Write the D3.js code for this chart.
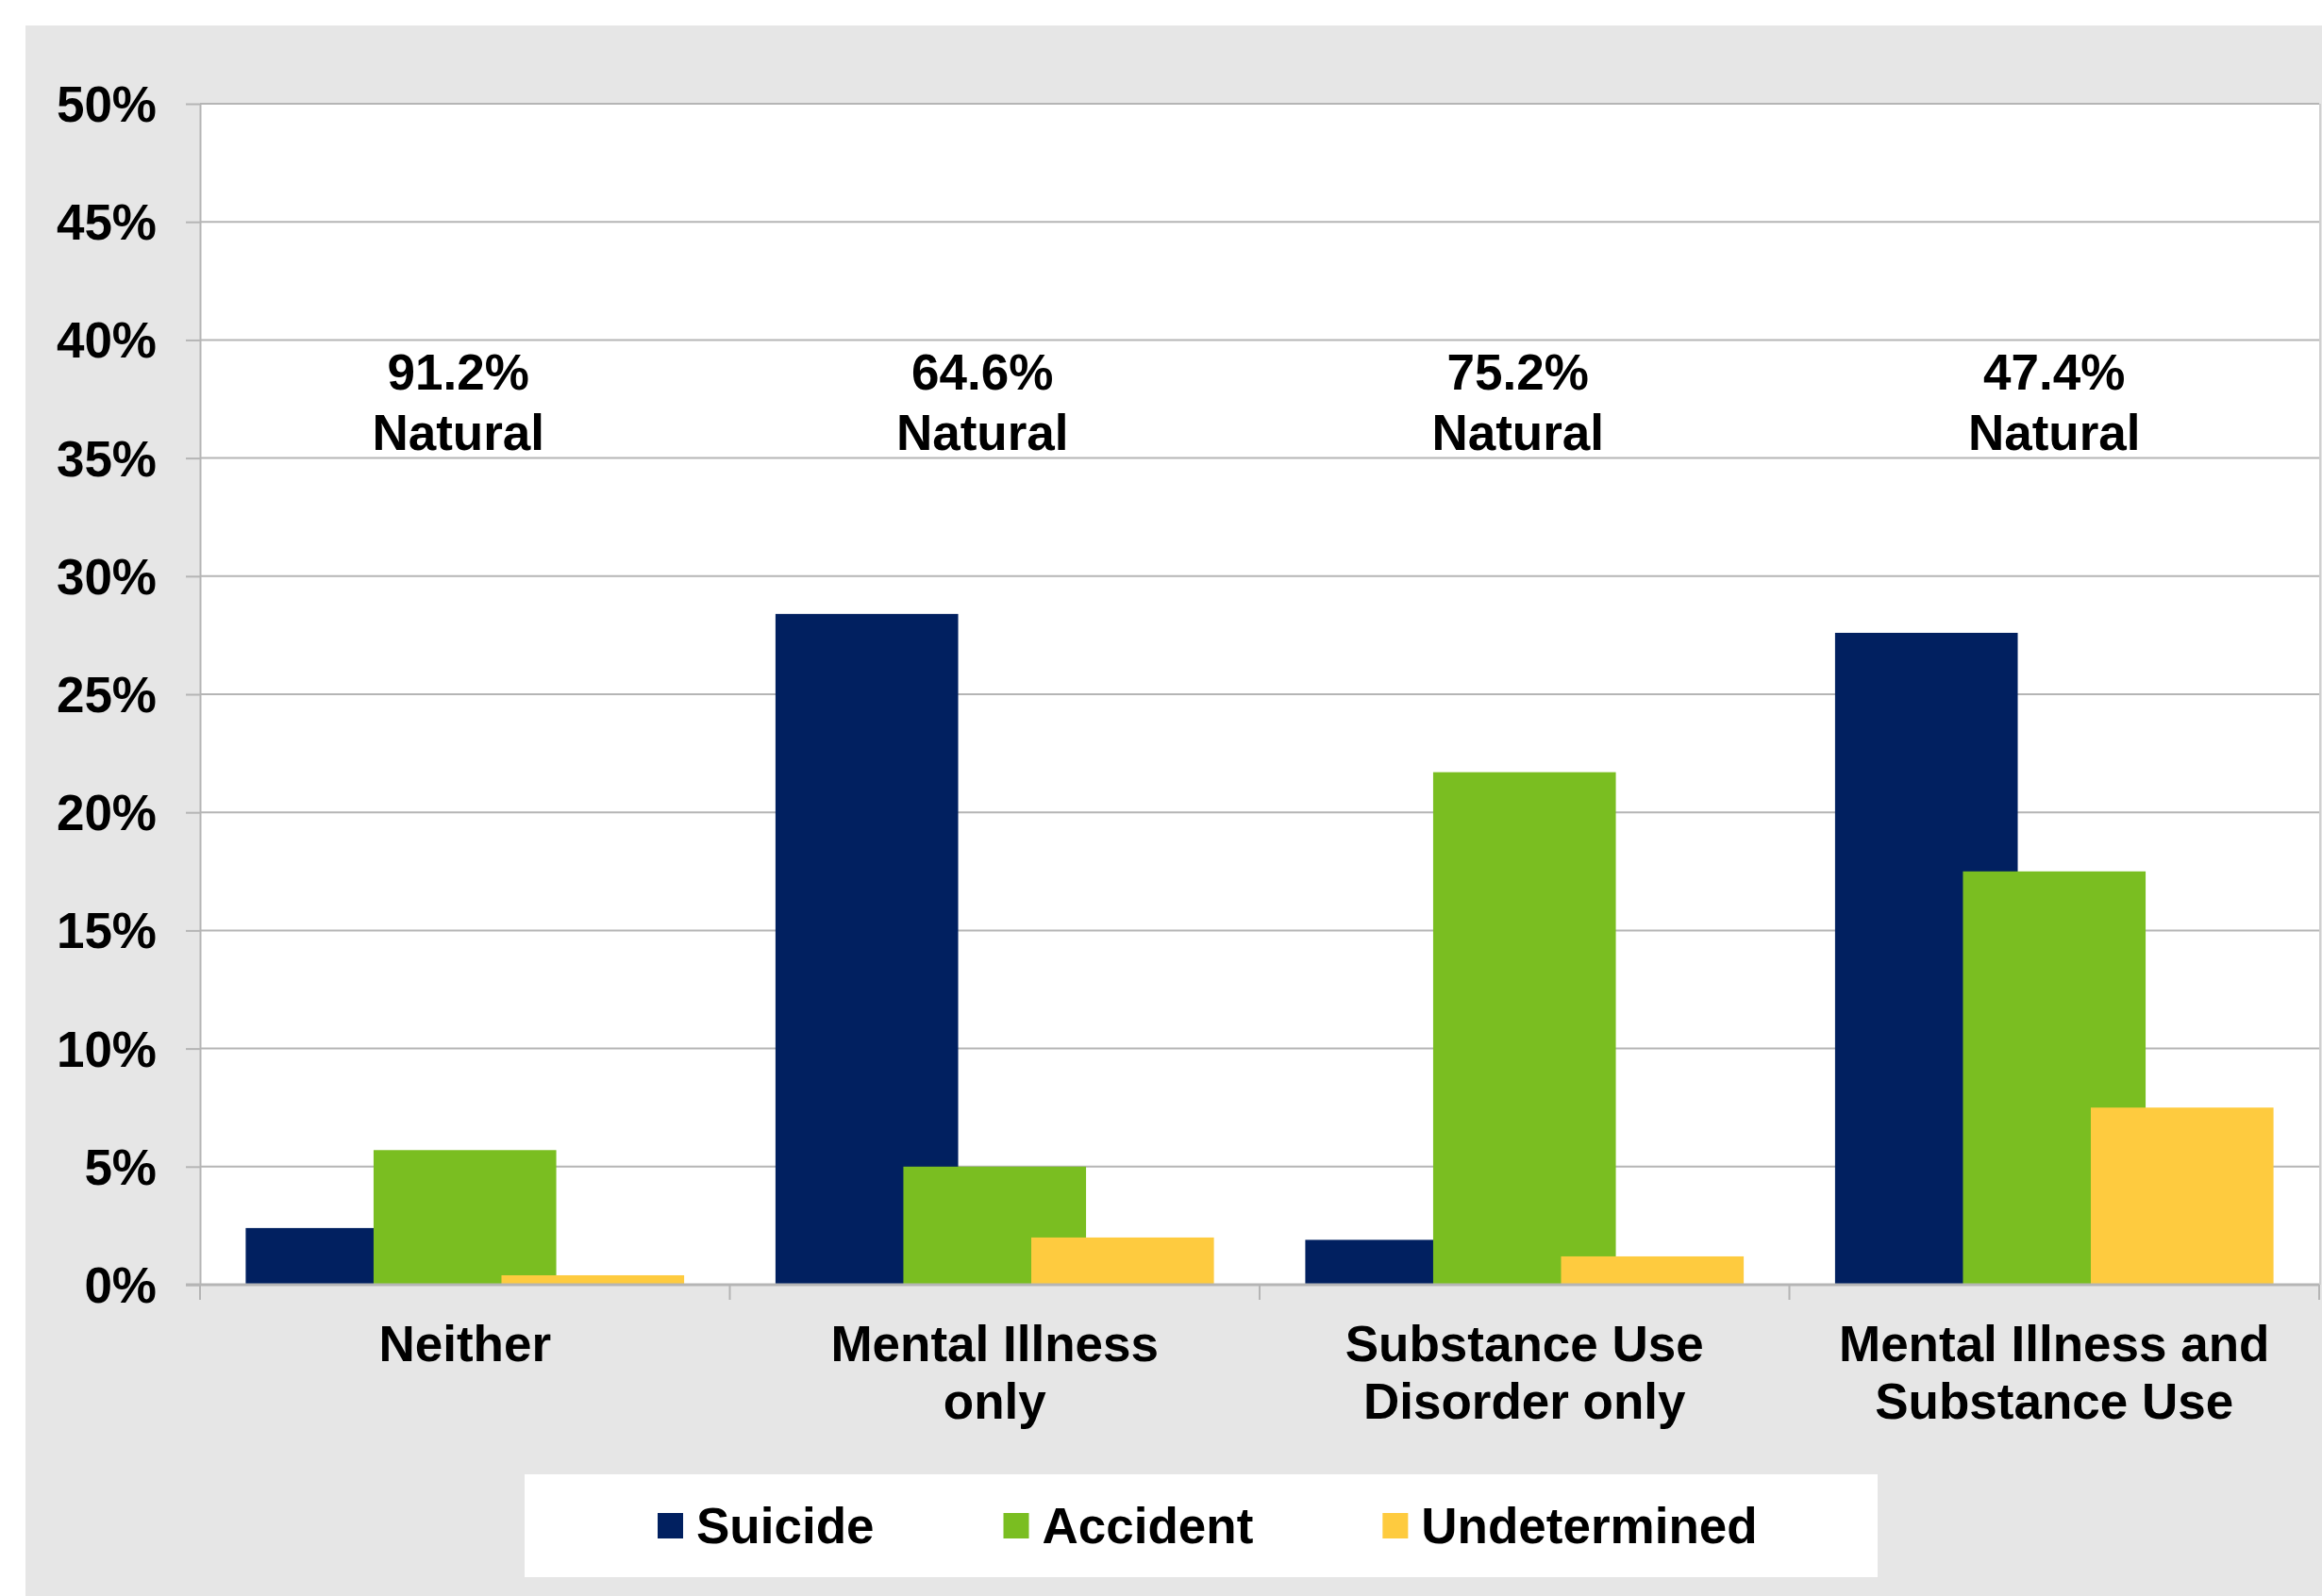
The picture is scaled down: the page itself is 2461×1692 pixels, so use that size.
<!DOCTYPE html>
<html>
<head>
<meta charset="utf-8">
<script src="https://cdn.jsdelivr.net/npm/d3@7"></script>
<style>
  html, body { margin: 0; padding: 0; background: #ffffff; }
  svg { display: block; }
  text { font-family: "Liberation Sans", Arial, sans-serif; font-weight: bold; }
</style>
</head>
<body>
<svg id="chart" width="2461" height="1692"></svg>
<script>
// ---- data ----
const categories = [
  ["Neither"],
  ["Mental Illness", "only"],
  ["Substance Use", "Disorder only"],
  ["Mental Illness and", "Substance Use"]
];
const seriesNames = ["Suicide", "Accident", "Undetermined"];
const suicide = [2.4, 28.4, 1.9, 27.6];
const accident = [5.7, 5.0, 21.7, 17.5];
const undetermined = [0.4, 2.0, 1.2, 7.5];
const naturalLabels = ["91.2%", "64.6%", "75.2%", "47.4%"];
const naturalWord = "Natural";
const yTicks = [0, 5, 10, 15, 20, 25, 30, 35, 40, 45, 50];
const colors = ["#012060", "#7abe21", "#fecb3f"];

// ---- layout ----
const svg = d3.select("#chart");
const W = 2461, H = 1692;
const plot = { left: 212, right: 2458, top: 110, bottom: 1362 };
const FONT = 53;
const gridColor = "#b5b5b5";

svg.append("rect").attr("x", 27).attr("y", 27).attr("width", W - 27).attr("height", H - 27).attr("fill", "#e6e6e6");
svg.append("rect").attr("x", plot.left).attr("y", plot.top)
  .attr("width", plot.right - plot.left).attr("height", plot.bottom - plot.top).attr("fill", "#ffffff");

const idx = categories.map((d, i) => i);
const x = d3.scaleBand().domain(idx).range([plot.left, plot.right]).paddingInner(0).paddingOuter(0);
const y = d3.scaleLinear().domain([0, 50]).range([plot.bottom, plot.top]);

// Excel-like grouping: gap width 50%, overlap 30%
const gapW = 0.5, overlap = 0.3;
const bw = x.bandwidth() / (1 + (seriesNames.length - 1) * (1 - overlap) + gapW);
const step = bw * (1 - overlap);
const xs = d3.scaleLinear().domain([0, 1]).range([bw * gapW / 2, bw * gapW / 2 + step]);

// gridlines
svg.append("g").selectAll("line").data(yTicks.filter(d => d > 0)).join("line")
  .attr("x1", plot.left).attr("x2", plot.right)
  .attr("y1", d => y(d)).attr("y2", d => y(d))
  .attr("stroke", gridColor).attr("stroke-width", 2);

// right border of plot
svg.append("line").attr("x1", plot.right + 1).attr("x2", plot.right + 1)
  .attr("y1", plot.top).attr("y2", plot.bottom).attr("stroke", "#d0d0d0").attr("stroke-width", 2);

// bars
const seriesData = [suicide, accident, undetermined];
seriesData.forEach((vals, s) => {
  svg.append("g").selectAll("rect").data(vals).join("rect")
    .attr("x", (d, i) => x(i) + xs(s))
    .attr("width", bw)
    .attr("y", d => y(d))
    .attr("height", d => y(0) - y(d))
    .attr("fill", colors[s]);
});

// y axis
const yAxis = d3.axisLeft(y).tickValues(yTicks).tickFormat(d => d + "%")
  .tickSize(15).tickSizeOuter(0).tickPadding(31);
const gy = svg.append("g").attr("transform", `translate(${plot.left},0)`).call(yAxis);
gy.select(".domain").attr("stroke", gridColor).attr("stroke-width", 2);
gy.selectAll(".tick line").attr("stroke", gridColor).attr("stroke-width", 2);
gy.selectAll(".tick text").attr("font-size", FONT).attr("fill", "#000")
  .attr("font-family", "Liberation Sans, Arial, sans-serif").attr("font-weight", "bold")
  .attr("dy", "0.35em");

// x axis line + ticks at category boundaries
const gx = svg.append("g");
gx.append("line").attr("x1", plot.left - 15).attr("x2", plot.right)
  .attr("y1", plot.bottom).attr("y2", plot.bottom).attr("stroke", gridColor).attr("stroke-width", 3);
const bounds = idx.map(i => x(i)).concat([x.range()[1]]);
gx.selectAll("line.tk").data(bounds).join("line").attr("class", "tk")
  .attr("x1", d => d).attr("x2", d => d)
  .attr("y1", plot.bottom).attr("y2", plot.bottom + 16)
  .attr("stroke", gridColor).attr("stroke-width", 2);

// category labels
const catG = svg.append("g");
categories.forEach((lines, i) => {
  const t = catG.append("text").attr("text-anchor", "middle").attr("font-size", FONT).attr("fill", "#000");
  lines.forEach((ln, j) => {
    t.append("tspan").attr("x", x(i) + x.bandwidth() / 2).attr("y", 1443 + j * 61).text(ln);
  });
});

// natural annotations
const annOffset = [-7, -13, -7, 0];
const annG = svg.append("g");
naturalLabels.forEach((lab, i) => {
  const cx = x(i) + x.bandwidth() / 2 + annOffset[i];
  const t = annG.append("text").attr("text-anchor", "middle").attr("font-size", FONT).attr("fill", "#000");
  t.append("tspan").attr("x", cx).attr("y", 413).text(lab);
  t.append("tspan").attr("x", cx).attr("y", 477).text(naturalWord);
});

// legend
const lg = svg.append("g");
lg.append("rect").attr("x", 556).attr("y", 1563).attr("width", 1434).attr("height", 109).attr("fill", "#ffffff");
let lx = 697;
seriesNames.forEach((name, s) => {
  lg.append("rect").attr("x", lx).attr("y", 1604).attr("width", 27).attr("height", 27).attr("fill", colors[s]);
  const t = lg.append("text").attr("x", lx + 41).attr("y", 1636).attr("font-size", FONT).attr("fill", "#000").text(name);
  const w = t.node().getComputedTextLength();
  lx = lx + 41 + w + 137;
});
</script>
</body>
</html>
